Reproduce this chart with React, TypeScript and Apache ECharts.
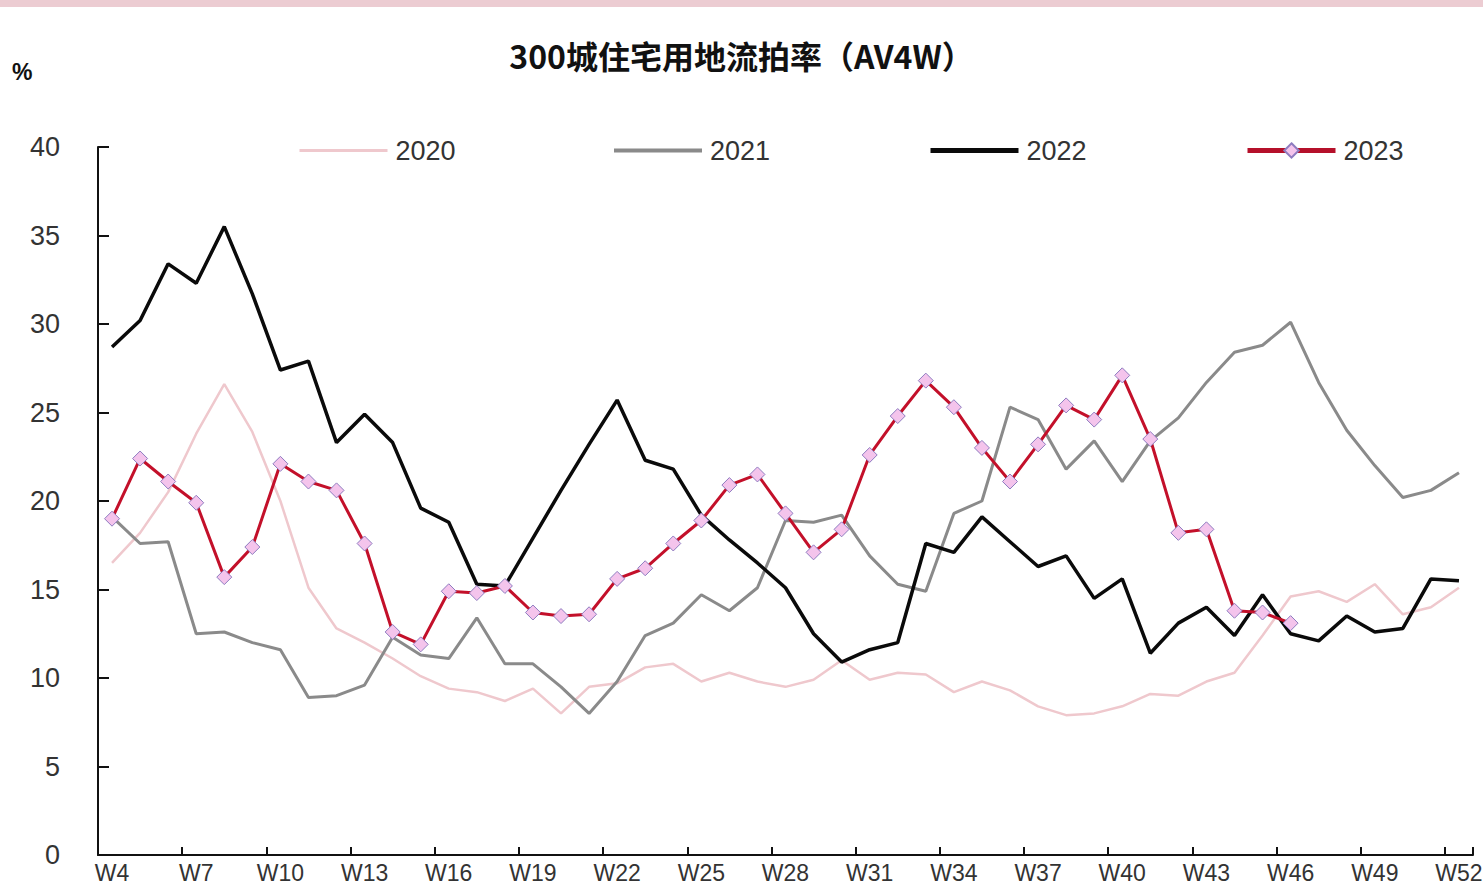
import React, { useEffect, useRef } from "react";
import * as echarts from "echarts";

const weeks: string[] = [];
for (let w = 4; w <= 52; w++) weeks.push("W" + w);

const s2020 = [16.5, 18.2, 20.5, 23.8, 26.6, 23.9, 20.0, 15.1, 12.8, 12.0, 11.1, 10.1, 9.4, 9.2, 8.7, 9.4, 8.0, 9.5, 9.7, 10.6, 10.8, 9.8, 10.3, 9.8, 9.5, 9.9, 11.0, 9.9, 10.3, 10.2, 9.2, 9.8, 9.3, 8.4, 7.9, 8.0, 8.4, 9.1, 9.0, 9.8, 10.3, 12.4, 14.6, 14.9, 14.3, 15.3, 13.6, 14.0, 15.1];
const s2021 = [19.1, 17.6, 17.7, 12.5, 12.6, 12.0, 11.6, 8.9, 9.0, 9.6, 12.3, 11.3, 11.1, 13.4, 10.8, 10.8, 9.5, 8.0, 9.8, 12.4, 13.1, 14.7, 13.8, 15.1, 18.9, 18.8, 19.2, 16.9, 15.3, 14.9, 19.3, 20.0, 25.3, 24.6, 21.8, 23.4, 21.1, 23.4, 24.7, 26.7, 28.4, 28.8, 30.1, 26.7, 24.0, 22.0, 20.2, 20.6, 21.6];
const s2022 = [28.7, 30.2, 33.4, 32.3, 35.5, 31.7, 27.4, 27.9, 23.3, 24.9, 23.3, 19.6, 18.8, 15.3, 15.2, 17.9, 20.6, 23.2, 25.7, 22.3, 21.8, 19.2, 17.8, 16.5, 15.1, 12.5, 10.9, 11.6, 12.0, 17.6, 17.1, 19.1, 17.7, 16.3, 16.9, 14.5, 15.6, 11.4, 13.1, 14.0, 12.4, 14.7, 12.5, 12.1, 13.5, 12.6, 12.8, 15.6, 15.5];
const s2023: (number | null)[] = [19.0, 22.4, 21.1, 19.9, 15.7, 17.4, 22.1, 21.1, 20.6, 17.6, 12.6, 11.9, 14.9, 14.8, 15.2, 13.7, 13.5, 13.6, 15.6, 16.2, 17.6, 18.9, 20.9, 21.5, 19.3, 17.1, 18.4, 22.6, 24.8, 26.8, 25.3, 23.0, 21.1, 23.2, 25.4, 24.6, 27.1, 23.5, 18.2, 18.4, 13.8, 13.7, 13.1, null, null, null, null, null, null];

const seriesNames = ["2020", "2021", "2022", "2023"];
const title = "300城住宅用地流拍率（AV4W）";

export default function App() {
  const ref = useRef<HTMLDivElement>(null);
  useEffect(() => {
    if (!ref.current) return;
    const chart = echarts.init(ref.current, null, { renderer: "svg" });
    const font = "'Liberation Sans', Arial, sans-serif";
    const legendBase = {
      top: 137,
      padding: 0,
      itemWidth: 88,
      itemHeight: 14,
      textStyle: { fontSize: 27, color: "#333", fontFamily: font, padding: [0, 0, 0, 3] },
      itemGap: 0,
    };
    chart.setOption({
      animation: false,
      backgroundColor: "#ffffff",
      title: {
        text: title,
        left: "center",
        top: 34,
        textStyle: { fontSize: 32, fontWeight: "bold", color: "#111", fontFamily: "'Noto Sans CJK SC', sans-serif" },
      },
      graphic: [
        { type: "rect", left: 0, top: 0, shape: { width: 1483, height: 7 }, style: { fill: "#ecccd2" } },
        { type: "text", left: 12, top: 60, style: { text: "%", fontSize: 23, fontWeight: "bold", fill: "#111", fontFamily: font } },
      ],
      legend: [
        { ...legendBase, left: 298, data: [seriesNames[0]], itemStyle: { opacity: 0 }, lineStyle: { width: 3 } },
        { ...legendBase, left: 612, data: [seriesNames[1]], itemStyle: { opacity: 0 }, lineStyle: { width: 4 } },
        { ...legendBase, left: 928, data: [seriesNames[2]], itemStyle: { opacity: 0 }, lineStyle: { width: 5 } },
        { ...legendBase, left: 1245, itemHeight: 18, data: [seriesNames[3]], lineStyle: { width: 5, color: "#b5102a" } },
      ],
      grid: { left: 98, right: 10, top: 147, bottom: 33, containLabel: false, outerBoundsMode: "none" },
      xAxis: {
        type: "category",
        data: weeks,
        boundaryGap: true,
        axisLine: { lineStyle: { color: "#111", width: 2 } },
        axisTick: { show: true, inside: true, length: 8, interval: 2, lineStyle: { color: "#111", width: 2 } },
        axisLabel: { interval: 2, fontSize: 23, color: "#333", margin: 6, fontFamily: font },
        splitLine: { show: false },
      },
      yAxis: {
        type: "value",
        min: 0,
        max: 40,
        interval: 5,
        axisLine: { show: true, lineStyle: { color: "#111", width: 2 } },
        axisTick: { show: true, inside: true, length: 11, lineStyle: { color: "#111", width: 2 } },
        axisLabel: { fontSize: 27, color: "#333", margin: 38, fontFamily: font },
        splitLine: { show: false },
      },
      series: [
        {
          name: seriesNames[0],
          type: "line",
          data: s2020,
          symbol: "none",
          lineStyle: { color: "#efc8cd", width: 2.5 },
          itemStyle: { color: "#efc8cd" },
          z: 1,
        },
        {
          name: seriesNames[1],
          type: "line",
          data: s2021,
          symbol: "none",
          lineStyle: { color: "#8a8a8a", width: 3 },
          itemStyle: { color: "#8a8a8a" },
          z: 2,
        },
        {
          name: seriesNames[2],
          type: "line",
          data: s2022,
          symbol: "none",
          lineStyle: { color: "#0a0a0a", width: 3.5 },
          itemStyle: { color: "#0a0a0a" },
          z: 3,
        },
        {
          name: seriesNames[3],
          type: "line",
          data: s2023,
          symbol: "diamond",
          symbolSize: 15,
          showAllSymbol: true,
          lineStyle: { color: "#c3102a", width: 3 },
          itemStyle: { color: "#f4c4ec", borderColor: "#8e7cc0", borderWidth: 1 },
          z: 4,
        },
      ],
    });
    return () => chart.dispose();
  }, []);
  return (
    <div
      ref={ref}
      style={{ position: "fixed", left: 0, top: 0, width: 1483, height: 888, background: "#fff" }}
    />
  );
}
